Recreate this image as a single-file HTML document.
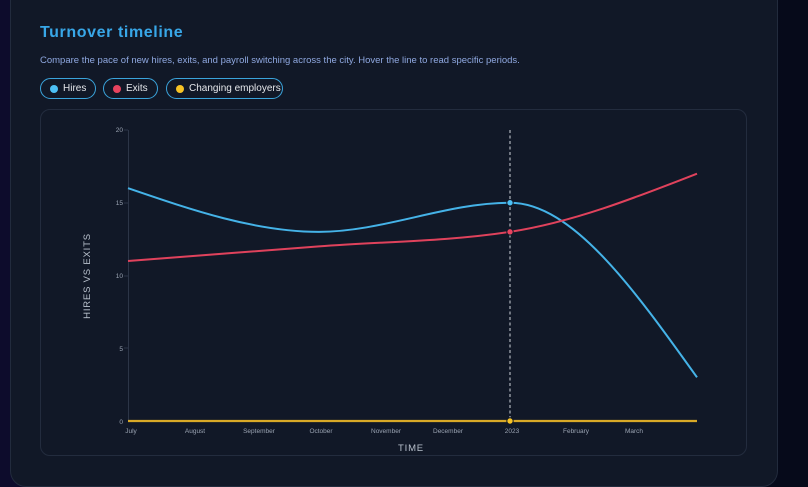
<!DOCTYPE html>
<html><head><meta charset="utf-8"><style>
html,body{margin:0;padding:0;}
body{width:808px;height:487px;overflow:hidden;background:linear-gradient(90deg,#0d0c2c 0%,#0b1024 40%,#060a1a 100%);font-family:"Liberation Sans",sans-serif;position:relative;}
.card{position:absolute;left:10px;top:-20px;width:768px;height:507px;background:#111827;border:1px solid #222b3d;border-radius:16px;box-sizing:border-box;}
h1{position:absolute;left:40px;top:24px;margin:0;font-size:16px;font-weight:bold;color:#38a7e8;letter-spacing:0.6px;}
.sub{position:absolute;left:40px;top:55px;font-size:9.5px;color:#8fa8e0;}
.pill{position:absolute;top:78px;height:21px;border:1.5px solid #3aa4dc;border-radius:11px;box-sizing:border-box;font-size:10px;color:#e5e7eb;line-height:20px;padding-left:22px;}
.pill i{position:absolute;left:9px;top:5.5px;width:8px;height:8px;border-radius:50%;}
.panel{position:absolute;left:40px;top:109px;width:707px;height:347px;border:1px solid #232c3e;border-radius:10px;box-sizing:border-box;}
svg{position:absolute;left:0;top:0;}
</style></head><body>
<div class="card"></div>
<h1>Turnover timeline</h1>
<div class="sub">Compare the pace of new hires, exits, and payroll switching across the city. Hover the line to read specific periods.</div>
<div class="pill" style="left:40px;width:56px;"><i style="background:#4cc0f5"></i>Hires</div>
<div class="pill" style="left:103px;width:55px;"><i style="background:#e8435e"></i>Exits</div>
<div class="pill" style="left:166px;width:117px;"><i style="background:#f7c325"></i>Changing employers</div>
<div class="panel"></div>
<svg width="808" height="487" font-family="Liberation Sans, sans-serif">
<line x1="128.5" y1="130" x2="128.5" y2="421" stroke="#2c3547" stroke-width="1"/>
<g fill="#9aa3b2" font-size="6.5" text-anchor="end">
<text x="123" y="132">20</text><text x="123" y="205">15</text><text x="123" y="278">10</text><text x="123" y="351">5</text><text x="123" y="424">0</text>
</g>
<g stroke="#2c3547"><line x1="124" y1="130" x2="128" y2="130"/><line x1="124" y1="203" x2="128" y2="203"/><line x1="124" y1="276" x2="128" y2="276"/><line x1="124" y1="348" x2="128" y2="348"/></g>
<g fill="#9aa3b2" font-size="6.5" text-anchor="middle">
<text x="131" y="433">July</text><text x="195" y="433">August</text><text x="259" y="433">September</text><text x="321" y="433">October</text><text x="386" y="433">November</text><text x="448" y="433">December</text><text x="512" y="433">2023</text><text x="576" y="433">February</text><text x="634" y="433">March</text>
</g>
<text x="411" y="451" fill="#b8c0cc" font-size="9.5" text-anchor="middle" letter-spacing="0.8">TIME</text>
<text transform="translate(90,276) rotate(-90)" fill="#b8c0cc" font-size="9.5" text-anchor="middle" letter-spacing="0.8">HIRES VS EXITS</text>
<line x1="510" y1="130" x2="510" y2="421" stroke="#e5e9ef" stroke-width="0.9" stroke-dasharray="3,2.5"/>
<path d="M128,188.2 C191.67,210 255.33,231.85 319,231.85 C382.67,231.85 446.33,202.75 510,202.75 C572.33,202.75 634.67,290.05 697,377.35" fill="none" stroke="#45b3e8" stroke-width="2"/>
<path d="M128,260.95 C191.67,256.05 255.33,251.25 319,246.4 C382.67,241.55 446.33,241.55 510,231.85 C572.33,222.35 634.67,198 697,173.65" fill="none" stroke="#e0425c" stroke-width="2"/>
<line x1="128" y1="421" x2="697" y2="421" stroke="#d9a927" stroke-width="2.2"/>
<circle cx="510" cy="202.75" r="3.2" fill="#4cc0f5" stroke="#111827" stroke-width="1"/>
<circle cx="510" cy="231.85" r="3.2" fill="#e8435e" stroke="#111827" stroke-width="1"/>
<circle cx="510" cy="421" r="3.2" fill="#f7c325" stroke="#111827" stroke-width="1"/>
</svg>
</body></html>
